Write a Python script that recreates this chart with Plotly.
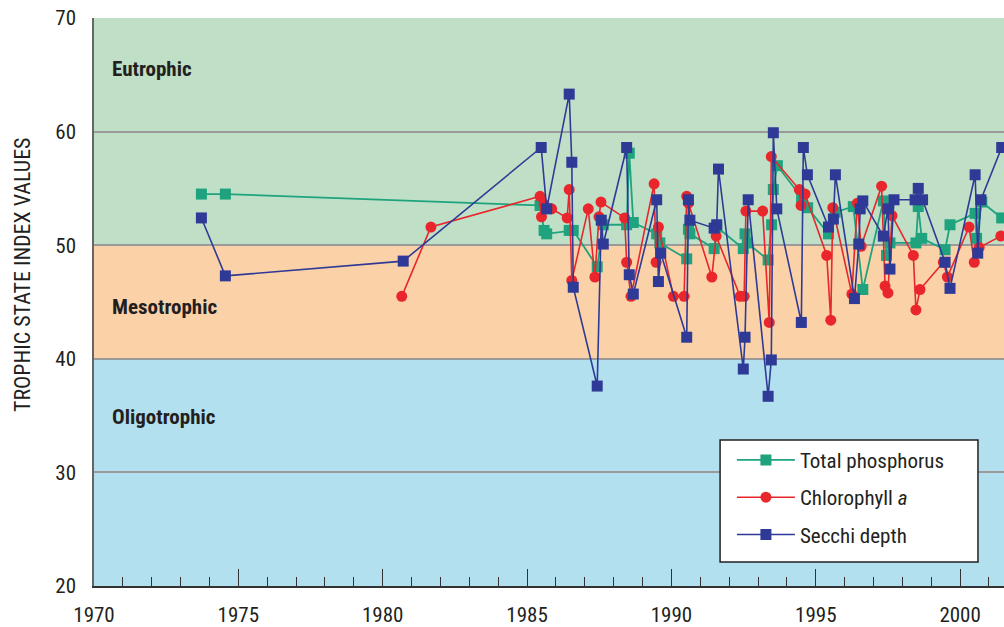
import plotly.graph_objects as go

# ---- data ----
tp_year = [1973.72, 1974.55, 1985.45, 1985.59, 1985.68, 1986.46, 1986.60, 1987.43, 1987.64,
           1988.45, 1988.54, 1988.68, 1989.49, 1989.60, 1990.53, 1990.59, 1990.64, 1991.48,
           1991.57, 1992.49, 1992.55, 1992.63, 1993.35, 1993.47, 1993.53, 1993.67, 1994.51,
           1994.72, 1995.44, 1995.67, 1996.30, 1996.63, 1997.34, 1997.45, 1997.57, 1998.47,
           1998.55, 1998.67, 1999.48, 1999.65, 2000.52, 2000.57, 2000.75, 2001.44]
tp_val = [54.5, 54.5, 53.5, 51.3, 51.0, 51.3, 51.3, 48.1, 51.8,
          51.8, 58.1, 52.0, 51.0, 50.2, 48.8, 51.4, 51.0, 49.7,
          51.6, 49.7, 51.0, 50.2, 48.7, 51.8, 54.9, 57.0, 54.2,
          53.3, 51.0, 52.9, 53.4, 46.1, 53.9, 49.1, 50.2, 50.2,
          53.4, 50.6, 49.6, 51.8, 52.8, 50.6, 53.8, 52.4]

chl_year = [1980.66, 1981.67, 1985.45, 1985.50, 1985.59, 1985.85, 1986.39, 1986.46, 1986.55,
            1987.12, 1987.35, 1987.49, 1987.56, 1988.38, 1988.45, 1988.60, 1989.40, 1989.47,
            1989.55, 1990.07, 1990.44, 1990.53, 1990.59, 1991.40, 1991.55, 1992.38, 1992.52,
            1992.58, 1993.16, 1993.39, 1993.46, 1994.43, 1994.49, 1994.63, 1995.38, 1995.52,
            1995.59, 1996.25, 1996.44, 1996.57, 1997.28, 1997.40, 1997.50, 1997.64, 1998.38,
            1998.47, 1998.61, 1999.42, 1999.56, 2000.31, 2000.49, 2000.66, 2001.41]
chl_val = [45.5, 51.6, 54.3, 52.5, 53.6, 53.2, 52.4, 54.9, 46.9,
           53.2, 47.2, 52.5, 53.8, 52.4, 48.5, 45.5, 55.4, 48.5,
           51.6, 45.5, 45.5, 54.3, 53.7, 47.2, 50.8, 45.5, 45.5,
           53.0, 53.0, 43.2, 57.8, 54.9, 53.5, 54.5, 49.1, 43.4,
           53.3, 45.7, 53.7, 49.9, 55.2, 46.4, 45.8, 52.6, 49.1,
           44.3, 46.1, 48.5, 47.2, 51.6, 48.5, 49.8, 50.8]

sd_year = [1973.72, 1974.55, 1980.71, 1985.49, 1985.68, 1986.46, 1986.55, 1986.60, 1987.43,
           1987.57, 1987.64, 1988.45, 1988.54, 1988.68, 1989.49, 1989.55, 1989.63, 1990.53,
           1990.59, 1990.64, 1991.48, 1991.57, 1991.63, 1992.49, 1992.55, 1992.66, 1993.35,
           1993.46, 1993.53, 1993.65, 1994.50, 1994.57, 1994.71, 1995.44, 1995.61, 1995.68,
           1996.34, 1996.49, 1996.54, 1996.63, 1997.34, 1997.50, 1997.57, 1997.71, 1998.44,
           1998.55, 1998.70, 1999.48, 1999.65, 2000.52, 2000.61, 2000.72, 2001.44]
sd_val = [52.4, 47.3, 48.6, 58.6, 53.2, 63.3, 57.3, 46.3, 37.6,
          52.2, 50.1, 58.6, 47.4, 45.7, 54.0, 46.8, 49.3, 41.9,
          54.0, 52.2, 51.5, 51.8, 56.7, 39.1, 41.9, 54.0, 36.7,
          39.9, 59.9, 53.2, 43.2, 58.6, 56.2, 51.6, 52.3, 56.2,
          45.3, 50.1, 53.2, 53.9, 50.8, 53.2, 47.9, 54.0, 54.0,
          55.0, 54.0, 48.5, 46.2, 56.2, 49.3, 54.0, 58.6]

bands = [(50, 70, "#bfe0c6", "Eutrophic", 65.5),
         (40, 50, "#fbd2a8", "Mesotrophic", 44.6),
         (20, 40, "#b3e0ef", "Oligotrophic", 34.9)]

y_title = "TROPHIC STATE INDEX VALUES"

FONT = "Liberation Sans Narrow, Roboto Condensed, Arial Narrow, sans-serif"
GREEN = "#1fa37e"
RED = "#e8262b"
BLUE = "#2f3a96"

fig = go.Figure()

fig.add_trace(go.Scatter(x=tp_year, y=tp_val, mode="lines+markers", name="Total phosphorus",
                         legendgroup="a",
                         line=dict(color=GREEN, width=1.8),
                         marker=dict(symbol="square", size=11, color=GREEN)))
fig.add_trace(go.Scatter(x=chl_year, y=chl_val, mode="lines+markers", name="Chlorophyll <i>a</i>",
                         legendgroup="b",
                         line=dict(color=RED, width=1.6),
                         marker=dict(symbol="circle", size=11, color=RED)))
fig.add_trace(go.Scatter(x=sd_year, y=sd_val, mode="lines+markers", name="Secchi depth",
                         legendgroup="c",
                         line=dict(color=BLUE, width=1.6),
                         marker=dict(symbol="square", size=11, color=BLUE)))

shapes = []
annotations = []
for lo, hi, col, label, ly in bands:
    shapes.append(dict(type="rect", xref="paper", yref="y", x0=0, x1=1, y0=lo, y1=hi,
                       fillcolor=col, line=dict(width=0), layer="below"))
    annotations.append(dict(x=1970.55, y=ly, xref="x", yref="y", text="<b>%s</b>" % label,
                            showarrow=False, xanchor="left", yanchor="middle",
                            font=dict(family=FONT, size=21, color="#231f20")))

# y-axis title (placed as in the reference, slightly above the axis centre)
annotations.append(dict(x=-0.0791, y=0.5475, xref="paper", yref="paper", text=y_title,
                        textangle=-90, showarrow=False, xanchor="center", yanchor="middle",
                        font=dict(family=FONT, size=22, color="#231f20")))

# legend frame (white box with dark border) behind the legend entries
shapes.append(dict(type="rect", xref="paper", yref="paper", x0=0.688, x1=0.9714,
                   y0=0.0423, y1=0.257, fillcolor="white",
                   line=dict(color="#231f20", width=1.5), layer="above"))

fig.update_layout(
    width=1004, height=627,
    margin=dict(l=94, r=0, t=18, b=41, autoexpand=False),
    paper_bgcolor="white", plot_bgcolor="rgba(0,0,0,0)",
    font=dict(family=FONT, size=21, color="#231f20"),
    shapes=shapes, annotations=annotations,
    showlegend=True,
    legend=dict(x=0.701, y=0.2575, xanchor="left", yanchor="top",
                bgcolor="rgba(0,0,0,0)", borderwidth=0,
                font=dict(family=FONT, size=21, color="#231f20"),
                tracegroupgap=7, itemwidth=58),
    xaxis=dict(range=[1970, 2001.52], dtick=5, tick0=1970, showgrid=False, zeroline=False,
               automargin=False,
               ticks="inside", ticklen=17, tickwidth=1.3, tickcolor="#333",
               showline=True, linecolor="#333", linewidth=2,
               ticklabelstandoff=9,
               tickfont=dict(family=FONT, size=21, color="#231f20"),
               minor=dict(dtick=1, tick0=1970, ticks="inside", ticklen=9, tickwidth=1.3,
                          tickcolor="#333", showgrid=False)),
    yaxis=dict(range=[20, 70], dtick=10, showgrid=True, gridcolor="#9a9a9a", gridwidth=1.5,
               zeroline=False, showline=True, linecolor="#666", linewidth=1.5,
               automargin=False,
               ticks="", ticklabelstandoff=12,
               tickfont=dict(family=FONT, size=21, color="#231f20")),
)

fig.write_html("out.html", config={"displayModeBar": False},
               post_script="document.body.style.margin='0px';document.body.style.overflow='hidden';")
